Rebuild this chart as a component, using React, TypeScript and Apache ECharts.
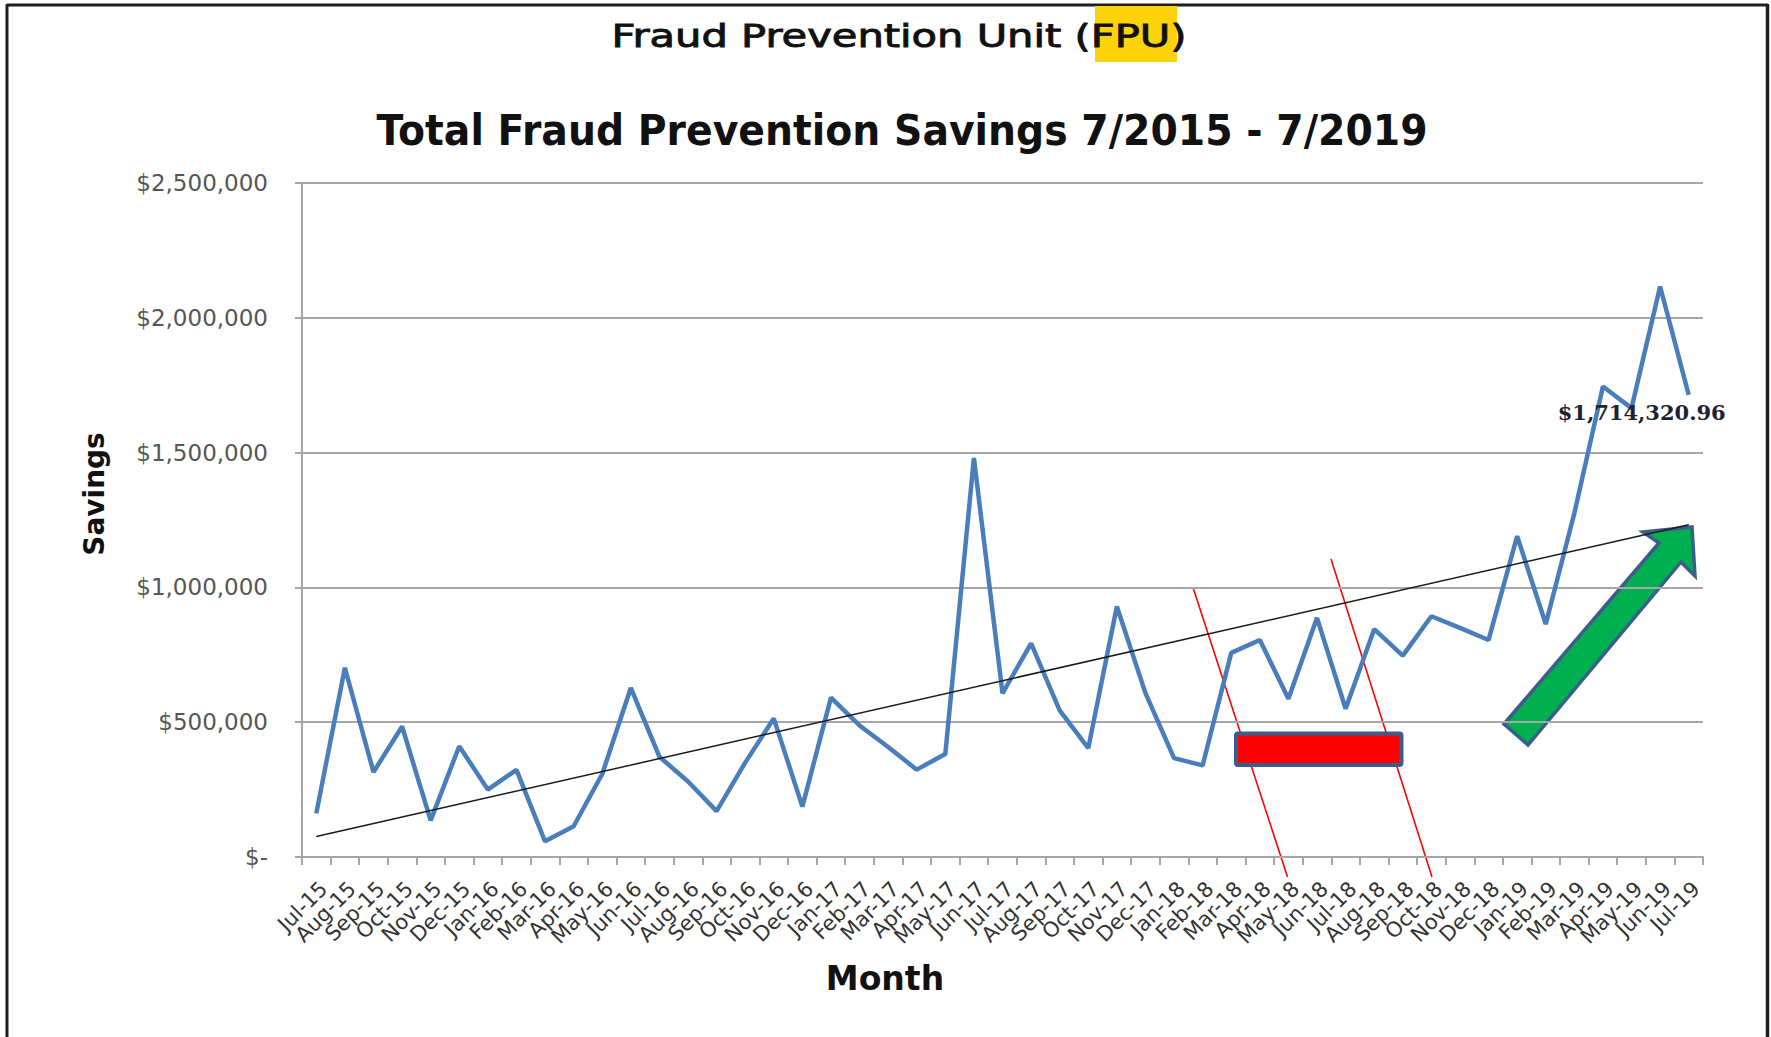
import React, { useEffect, useRef } from 'react';
import * as echarts from 'echarts';

const months = ['Jul-15','Aug-15','Sep-15','Oct-15','Nov-15','Dec-15','Jan-16','Feb-16','Mar-16','Apr-16','May-16','Jun-16','Jul-16','Aug-16','Sep-16','Oct-16','Nov-16','Dec-16','Jan-17','Feb-17','Mar-17','Apr-17','May-17','Jun-17','Jul-17','Aug-17','Sep-17','Oct-17','Nov-17','Dec-17','Jan-18','Feb-18','Mar-18','Apr-18','May-18','Jun-18','Jul-18','Aug-18','Sep-18','Oct-18','Nov-18','Dec-18','Jan-19','Feb-19','Mar-19','Apr-19','May-19','Jun-19','Jul-19'];

const savings = [162000, 702000, 315000, 484000, 136000, 411000, 250000, 323000, 58000, 114000, 308000, 627000, 372000, 280000, 170000, 350000, 514000, 187000, 591000, 488000, 408000, 324000, 382000, 1480000, 607000, 792000, 544000, 404000, 929000, 608000, 367000, 340000, 757000, 805000, 587000, 887000, 550000, 845000, 747000, 893000, 850000, 805000, 1190000, 864000, 1275000, 1745000, 1665000, 2116000, 1714320.96];

const yTickLabels = ['$-', '$500,000', '$1,000,000', '$1,500,000', '$2,000,000', '$2,500,000'];
const trendEnds = [76000, 1232000];
const lastLabel = '$1,714,320.96';

export default function App() {
  const ref = useRef<HTMLDivElement>(null);
  useEffect(() => {
    const chart = echarts.init(ref.current!, null, { renderer: 'svg' });
    const data = savings.map((v, i) =>
      i === savings.length - 1
        ? {
            value: v,
            label: {
              show: true,
              formatter: lastLabel,
              position: 'inside',
              offset: [-47, 18],
              fontFamily: 'DejaVu Serif',
              fontWeight: 'bold',
              fontSize: 21,
              color: '#1c2230',
            },
          }
        : v
    );
    chart.setOption({
      animation: false,
      backgroundColor: '#ffffff',
      grid: { left: 302, right: 68, top: 183, bottom: 180, containLabel: false },
      xAxis: {
        type: 'category',
        data: months,
        boundaryGap: true,
        axisLine: { show: true, lineStyle: { color: '#a6a6a6', width: 2 } },
        axisTick: { show: true, length: 8, lineStyle: { color: '#a6a6a6', width: 2 } },
        axisLabel: {
          interval: 0,
          rotate: 45,
          margin: 21,
          verticalAlign: 'top',
          fontFamily: 'DejaVu Sans',
          fontSize: 21,
          color: '#333333',
        },
        splitLine: { show: false },
      },
      yAxis: {
        type: 'value',
        min: 0,
        max: 2500000,
        interval: 500000,
        axisLine: { show: true, lineStyle: { color: '#a6a6a6', width: 2 } },
        axisTick: { show: true, length: 7, lineStyle: { color: '#a6a6a6', width: 2 } },
        axisLabel: {
          margin: 34,
          fontFamily: 'DejaVu Sans',
          fontSize: 23,
          color: '#555555',
          formatter: (v: number) => yTickLabels[Math.round(v / 500000)] ?? '',
        },
        splitLine: { show: true, lineStyle: { color: '#a6a6a6', width: 2 } },
      },
      series: [
        {
          type: 'line',
          data,
          symbol: 'circle',
          symbolSize: 0,
          showSymbol: true,
          lineStyle: { color: '#4a7ebb', width: 4.5 },
          itemStyle: { color: '#4a7ebb' },
          emphasis: { disabled: true },
          markLine: {
            silent: true,
            symbol: ['none', 'none'],
            label: { show: false },
            lineStyle: { color: '#1a1a1a', width: 1.5, type: 'solid' },
            data: [
              [
                { coord: [months[0], trendEnds[0]] },
                { coord: [months[months.length - 1], trendEnds[1]] },
              ],
            ],
          },
        },
      ],
      graphic: [
        // frame
        { type: 'line', shape: { x1: 7, y1: 5, x2: 1768, y2: 5 }, style: { stroke: '#1e1e1e', lineWidth: 3 } },
        { type: 'line', shape: { x1: 7, y1: 4, x2: 7, y2: 1037 }, style: { stroke: '#1e1e1e', lineWidth: 3 } },
        { type: 'line', shape: { x1: 1767.5, y1: 4, x2: 1767.5, y2: 1037 }, style: { stroke: '#1e1e1e', lineWidth: 3.5 } },
        // yellow highlight
        { type: 'rect', shape: { x: 1095, y: 6, width: 82, height: 56 }, style: { fill: '#fcd20a' } },
        {
          type: 'text', x: 899, y: 36, scaleX: 1.3,
          style: { text: 'Fraud Prevention Unit (FPU)', fontFamily: 'DejaVu Sans', fontSize: 32, fill: '#111111', stroke: '#111111', lineWidth: 0.9, align: 'center', verticalAlign: 'middle' },
        },
        {
          type: 'text', x: 902, y: 131, scaleX: 0.937,
          style: { text: 'Total Fraud Prevention Savings 7/2015 - 7/2019', fontFamily: 'DejaVu Sans', fontWeight: 'bold', fontSize: 42, fill: '#111111', align: 'center', verticalAlign: 'middle' },
        },
        {
          type: 'text', x: 94, y: 494, rotation: Math.PI / 2,
          style: { text: 'Savings', fontFamily: 'DejaVu Sans', fontWeight: 'bold', fontSize: 28, fill: '#111111', align: 'center', verticalAlign: 'middle' },
        },
        {
          type: 'text', x: 885, y: 978,
          style: { text: 'Month', fontFamily: 'DejaVu Sans', fontWeight: 'bold', fontSize: 33, fill: '#111111', align: 'center', verticalAlign: 'middle' },
        },
        // red slanted lines
        { type: 'line', shape: { x1: 1193, y1: 587.5, x2: 1287.5, y2: 877 }, style: { stroke: '#ff0000', lineWidth: 1.6 } },
        { type: 'line', shape: { x1: 1331, y1: 559, x2: 1432, y2: 877 }, style: { stroke: '#ff0000', lineWidth: 1.6 } },
        // red bar
        {
          type: 'rect', shape: { x: 1236, y: 733.5, width: 165.5, height: 31.5, r: 2 },
          style: { fill: '#ff0000', stroke: '#3a5d8c', lineWidth: 4 },
        },
        // green arrow
        {
          type: 'polygon',
          shape: { points: [[1504, 724], [1659, 543], [1643, 532], [1692, 527], [1695, 576], [1681, 562], [1528, 745]] },
          style: { fill: '#00b050', stroke: '#3a5d8c', lineWidth: 3.5, lineJoin: 'miter' },
        },
      ],
    });
    return () => chart.dispose();
  }, []);
  return (
    <div
      ref={ref}
      style={{ position: 'fixed', left: 0, top: 0, width: 1771, height: 1037, background: '#ffffff' }}
    />
  );
}
